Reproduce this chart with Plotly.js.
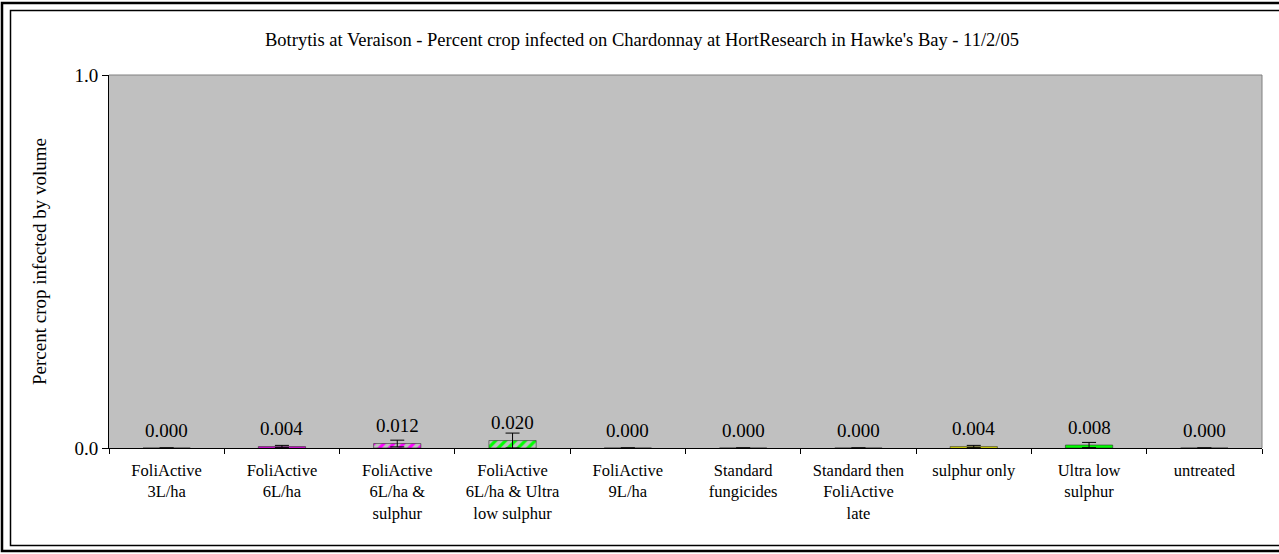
<!DOCTYPE html>
<html>
<head>
<meta charset="utf-8">
<script src="https://cdn.plot.ly/plotly-3.0.1.min.js"></script>
<style>
html,body{margin:0;padding:0;background:#fff;}
#chart{width:1279px;height:554px;}
</style>
</head>
<body>
<div id="chart"></div>
<script>
// ---- data ----
const categories = [
  "FoliActive<br>3L/ha",
  "FoliActive<br>6L/ha",
  "FoliActive<br>6L/ha &<br>sulphur",
  "FoliActive<br>6L/ha & Ultra<br>low sulphur",
  "FoliActive<br>9L/ha",
  "Standard<br>fungicides",
  "Standard then<br>FoliActive<br>late",
  "sulphur only",
  "Ultra low<br>sulphur",
  "untreated"
];
const values = [0.000, 0.004, 0.012, 0.020, 0.000, 0.000, 0.000, 0.004, 0.008, 0.000];
const errors = [0.000, 0.003, 0.009, 0.020, 0.000, 0.000, 0.000, 0.003, 0.007, 0.000];
const labels = ["0.000","0.004","0.012","0.020","0.000","0.000","0.000","0.004","0.008","0.000"];
const barBg = ["#0000ff","#ff00ff","#ff00ff","#00ff00","#00ffff","#800000","#008080","#ffff00","#00ff00","#ff0000"];
const barFg = ["#0000ff","#ff00ff","#ffff00","#ff00ff","#00ffff","#800000","#008080","#ffff00","#00ff00","#ff0000"];
const barShape = ["","","/","/","","","","","",""];
const titleText = "Botrytis at Veraison - Percent crop infected on Chardonnay at HortResearch in Hawke's Bay - 11/2/05";
const yTitle = "Percent crop infected by volume";

// ---- layout geometry ----
const W = 1279, H = 554;
const M = {l:109, r:17, t:75, b:106};
const pw = W - M.l - M.r, ph = H - M.t - M.b;
const px = x => (x - M.l) / pw;
const py = y => (H - M.b - y) / ph;

const font = "'Liberation Serif', 'Times New Roman', serif";

const trace = {
  type: "bar",
  x: categories,
  y: values,
  width: 0.41,
  marker: {
    color: barBg,
    line: {color: "#333333", width: 0.6},
    pattern: {shape: barShape, bgcolor: barBg, fgcolor: barFg, size: 7, solidity: 0.45, fillmode: "replace"}
  },
  error_y: {type: "data", array: errors, visible: true, color: "#000000", thickness: 1, width: 7},
  hoverinfo: "x+y",
  showlegend: false
};

const annotations = categories.map((c, i) => ({
  x: c, y: values[i], xref: "x", yref: "y",
  text: labels[i], showarrow: false, yanchor: "middle", yshift: 18,
  font: {family: font, size: 19, color: "#000"}
}));

const shapes = [
  // outer frame
  {type:"rect", xref:"paper", yref:"paper", x0:px(2), x1:px(1290), y0:py(3), y1:py(551),
   line:{color:"#000", width:2.5}, layer:"below"},
  // inner frame
  {type:"rect", xref:"paper", yref:"paper", x0:px(10.5), x1:px(1290), y0:py(10.5), y1:py(545.5),
   line:{color:"#000", width:1.5}, layer:"below"},
  // plot area border (top & right)
  {type:"line", xref:"paper", yref:"paper", x0:0, x1:1, y0:1, y1:1, line:{color:"#808080", width:1}},
  {type:"line", xref:"paper", yref:"paper", x0:1, x1:1, y0:0, y1:1, line:{color:"#808080", width:1}}
];

const layout = {
  width: W, height: H,
  margin: M,
  paper_bgcolor: "#ffffff",
  plot_bgcolor: "#c0c0c0",
  font: {family: font, color: "#000"},
  title: {text: titleText, font: {family: font, size: 18.5, color: "#000"},
          x: 642 / W, xref: "container", xanchor: "center",
          y: 1 - 40/H, yref: "container", yanchor: "middle"},
  xaxis: {
    type: "category",
    showline: true, linecolor: "#000", linewidth: 1,
    ticks: "outside", ticklen: 5, tickcolor: "#000", tickson: "boundaries",
    showgrid: false, zeroline: false,
    tickfont: {family: font, size: 16.5, color: "#000"},
    ticklabelstandoff: 7,
    tickangle: 0
  },
  yaxis: {
    range: [0, 1], dtick: 1, tick0: 0, tickformat: ".1f",
    showline: true, linecolor: "#000", linewidth: 1,
    ticks: "outside", ticklen: 6, tickcolor: "#000",
    showgrid: false, zeroline: false,
    tickfont: {family: font, size: 19, color: "#000"},
    title: {text: yTitle, font: {family: font, size: 19, color: "#000"}, standoff: 22}
  },
  annotations: annotations,
  shapes: shapes,
  bargap: 0.59
};

Plotly.newPlot("chart", [trace], layout, {displayModeBar: false, staticPlot: true});
</script>
</body>
</html>
